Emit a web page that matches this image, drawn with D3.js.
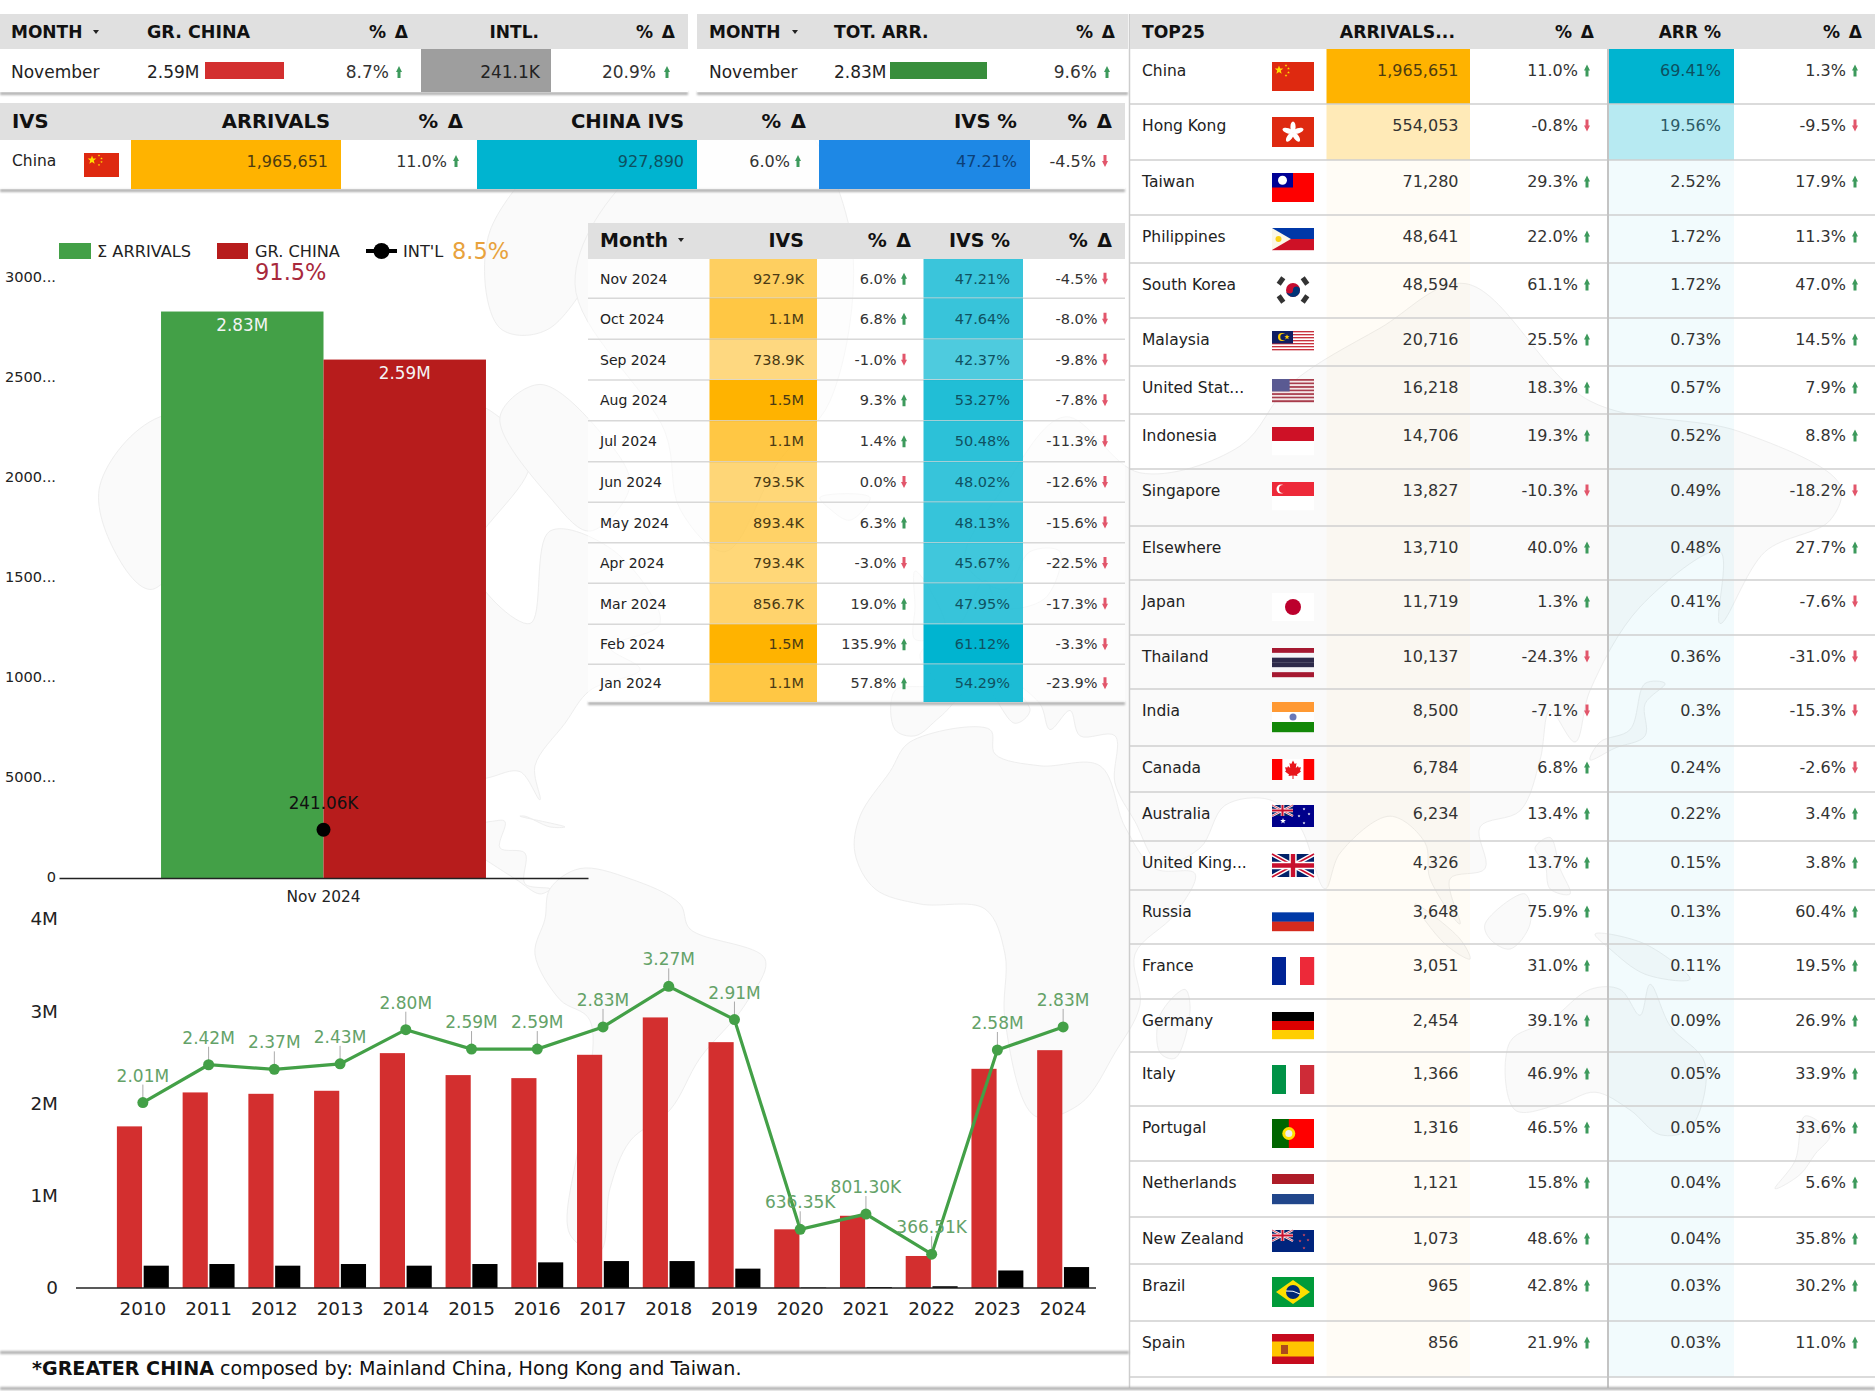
<!DOCTYPE html>
<html>
<head>
<meta charset="utf-8">
<title>Greater China arrivals</title>
<script src="https://cdn.jsdelivr.net/npm/d3@7"></script>
<style>
  html, body { margin: 0; padding: 0; background: #fff; }
  svg { display: block; }
  text { font-family: "DejaVu Sans", Verdana, sans-serif; }
</style>
</head>
<body>
<div id="page"></div>
<script>
// monthly table
const months = ["Nov 2024", "Oct 2024", "Sep 2024", "Aug 2024", "Jul 2024", "Jun 2024", "May 2024", "Apr 2024", "Mar 2024", "Feb 2024", "Jan 2024"];
const ivsLabels = ["927.9K", "1.1M", "738.9K", "1.5M", "1.1M", "793.5K", "893.4K", "793.4K", "856.7K", "1.5M", "1.1M"];
const ivsValues = [927900, 1100000, 738900, 1500000, 1100000, 793500, 893400, 793400, 856700, 1500000, 1100000];
const ivsDelta = ["6.0%", "6.8%", "-1.0%", "9.3%", "1.4%", "0.0%", "6.3%", "-3.0%", "19.0%", "135.9%", "57.8%"];
const ivsShare = [47.21, 47.64, 42.37, 53.27, 50.48, 48.02, 48.13, 45.67, 47.95, 61.12, 54.29];
const ivsShareDelta = ["-4.5%", "-8.0%", "-9.8%", "-7.8%", "-11.3%", "-12.6%", "-15.6%", "-22.5%", "-17.3%", "-3.3%", "-23.9%"];

// top 25 table
const countries = ["China", "Hong Kong", "Taiwan", "Philippines", "South Korea", "Malaysia", "United Stat...", "Indonesia", "Singapore", "Elsewhere", "Japan", "Thailand", "India", "Canada", "Australia", "United King...", "Russia", "France", "Germany", "Italy", "Portugal", "Netherlands", "New Zealand", "Brazil", "Spain"];
const arrivals = [1965651, 554053, 71280, 48641, 48594, 20716, 16218, 14706, 13827, 13710, 11719, 10137, 8500, 6784, 6234, 4326, 3648, 3051, 2454, 1366, 1316, 1121, 1073, 965, 856];
const arrivalsDelta = ["11.0%", "-0.8%", "29.3%", "22.0%", "61.1%", "25.5%", "18.3%", "19.3%", "-10.3%", "40.0%", "1.3%", "-24.3%", "-7.1%", "6.8%", "13.4%", "13.7%", "75.9%", "31.0%", "39.1%", "46.9%", "46.5%", "15.8%", "48.6%", "42.8%", "21.9%"];
const arrShare = [69.41, 19.56, 2.52, 1.72, 1.72, 0.73, 0.57, 0.52, 0.49, 0.48, 0.41, 0.36, 0.3, 0.24, 0.22, 0.15, 0.13, 0.11, 0.09, 0.05, 0.05, 0.04, 0.04, 0.03, 0.03];
const arrShareLabels = ["69.41%", "19.56%", "2.52%", "1.72%", "1.72%", "0.73%", "0.57%", "0.52%", "0.49%", "0.48%", "0.41%", "0.36%", "0.3%", "0.24%", "0.22%", "0.15%", "0.13%", "0.11%", "0.09%", "0.05%", "0.05%", "0.04%", "0.04%", "0.03%", "0.03%"];
const arrShareDelta = ["1.3%", "-9.5%", "17.9%", "11.3%", "47.0%", "14.5%", "7.9%", "8.8%", "-18.2%", "27.7%", "-7.6%", "-31.0%", "-15.3%", "-2.6%", "3.4%", "3.8%", "60.4%", "19.5%", "26.9%", "33.9%", "33.6%", "5.6%", "35.8%", "30.2%", "11.0%"];

// single month comparison chart
const monthCategory = ["Nov 2024"];
const monthSeries = ["Σ ARRIVALS", "GR. CHINA"];
const monthValues = [2830000, 2590000];
const monthIntl = 241060;
const monthTicks = [0, 500000, 1000000, 1500000, 2000000, 2500000, 3000000];
const monthTickLabels = ["0", "5000...", "1000...", "1500...", "2000...", "2500...", "3000..."];

// yearly chart
const years = ["2010", "2011", "2012", "2013", "2014", "2015", "2016", "2017", "2018", "2019", "2020", "2021", "2022", "2023", "2024"];
const greaterChina = [1752000, 2120000, 2105000, 2138000, 2546000, 2308000, 2275000, 2528000, 2933000, 2665000, 636000, 783000, 347000, 2376000, 2578000];
const international = [242000, 260000, 242000, 260000, 242000, 260000, 278000, 292000, 292000, 210000, 5000, 10000, 19000, 190000, 227000];
const totalArrivals = [2010000, 2420000, 2370000, 2430000, 2800000, 2590000, 2590000, 2830000, 3270000, 2910000, 636350, 801300, 366510, 2580000, 2830000];
const yearTicks = [0, 1000000, 2000000, 3000000, 4000000];
const yearTickLabels = ["0", "1M", "2M", "3M", "4M"];

// rough land outlines behind the page, lon/lat
const land = [
  [[-168,66],[-156,71],[-128,70],[-110,68],[-95,72],[-82,68],[-94,59],[-82,52],[-78,62],[-65,60],[-56,52],[-66,49],[-60,46],[-70,43],[-75,38],[-81,31],[-80,25],[-84,30],[-90,29],[-97,27],[-97,20],[-90,21],[-87,21],[-88,16],[-83,15],[-83,9],[-78,8],[-80,7],[-85,10],[-95,16],[-105,20],[-110,24],[-113,31],[-117,32],[-124,40],[-124,48],[-132,55],[-148,60],[-158,56],[-165,60]],
  [[-80,73],[-68,70],[-62,66],[-70,62],[-78,65],[-88,71]],
  [[-117,73],[-105,73],[-102,69],[-115,69]],
  [[-90,80],[-70,83],[-62,82],[-78,76],[-88,76]],
  [[-73,78],[-60,82],[-32,83.5],[-18,80],[-22,72],[-32,68],[-43,60],[-52,64],[-55,70]],
  [[-84,22],[-75,20],[-78,20],[-83,22]],
  [[-78,8],[-72,12],[-62,10],[-52,5],[-50,0],[-35,-6],[-39,-15],[-48,-25],[-54,-34],[-62,-39],[-66,-46],[-68,-54],[-74,-52],[-72,-38],[-70,-18],[-76,-14],[-81,-5],[-79,2]],
  [[-6,35],[10,37],[11,33],[20,31],[32,31],[37,20],[43,12],[51,11],[47,3],[39,-5],[40,-15],[35,-24],[28,-33],[19,-35],[13,-18],[13,-5],[9,4],[-4,5],[-13,8],[-17,15],[-16,22],[-10,30]],
  [[-9,37],[-9,43],[-1,44],[-4,48],[4,52],[9,57],[12,54],[21,55],[24,60],[18,60],[13,56],[5,59],[13,66],[25,71],[40,67],[60,69],[70,73],[88,76],[105,78],[130,72],[160,70],[180,66],[178,63],[165,60],[156,52],[156,60],[140,54],[130,43],[127,35],[122,40],[120,32],[116,23],[108,20],[109,12],[102,10],[104,1],[98,10],[97,17],[90,22],[80,15],[77,8],[72,20],[66,25],[57,24],[52,16],[44,13],[39,21],[35,28],[35,36],[28,36],[26,40],[22,37],[20,41],[13,45],[18,40],[15,38],[8,44],[0,39],[-5,36]],
  [[-5,50],[1,51],[-2,56],[-5,58],[-5,54]],
  [[-24,65],[-14,65],[-18,63],[-22,64]],
  [[49,-12],[50,-16],[47,-25],[44,-24],[44,-17]],
  [[114,-22],[122,-18],[130,-12],[136,-12],[140,-17],[142,-11],[146,-19],[153,-26],[150,-37],[144,-38],[138,-34],[131,-31],[124,-33],[115,-34]],
  [[173,-35],[178,-38],[175,-41],[172,-44],[167,-46],[171,-42]],
  [[130,32],[135,34],[141,36],[141,41],[145,44],[141,44],[138,37],[132,35]],
  [[95,5],[104,-2],[106,-6],[101,-3]],
  [[109,1],[117,7],[118,1],[114,-4],[110,-2]],
  [[131,-1],[141,-3],[150,-10],[141,-9],[134,-4]],
  [[119,16],[122,18],[124,12],[126,7],[122,8],[121,13]]
];

const W = 1875, H = 1391;
const AMBER = "#ffb300", TEAL = "#00b4d0", UP = "#3d9a5c", DOWN = "#e2566b";

const svg = d3.select("#page").append("svg").attr("width", W).attr("height", H);

const defs = svg.append("defs");
defs.append("filter").attr("id", "soft").attr("x", "-5%").attr("y", "-200%").attr("width", "110%").attr("height", "500%")
  .append("feGaussianBlur").attr("stdDeviation", 1);

function label(g, x, y, str, size, anchor, fill, weight) {
  return g.append("text")
    .attr("x", x).attr("y", y)
    .attr("dominant-baseline", "central")
    .attr("text-anchor", anchor || "start")
    .attr("fill", fill || "#222")
    .attr("font-weight", weight || "normal")
    .style("font-size", size + "px")
    .text(str);
}

// column titles, the % Δ ones have a wider gap
function title(g, x, y, str, size, anchor) {
  label(g, x, y, str, size, anchor, "#111", "bold").style("word-spacing", str === "% Δ" ? "3px" : null);
}

// little stem arrow next to the % values
function arrow(g, x, y, str) {
  const down = str.startsWith("-") || str === "0.0%";
  const d = down
    ? `M${x - 1.5},${y - 6}h3v6h1.5l-3,6l-3,-6h1.5z`
    : `M${x - 1.5},${y + 6}h3v-6h1.5l-3,-6l-3,6h1.5z`;
  g.append("path").attr("d", d).attr("fill", down ? DOWN : UP);
}

function pctCell(g, xRight, xArrow, y, str, size) {
  label(g, xRight, y, str, size, "end", "#333");
  arrow(g, xArrow, y, str);
}

function header(g, x0, x1, y0, y1) {
  g.append("rect").attr("x", x0).attr("y", y0).attr("width", x1 - x0).attr("height", y1 - y0).attr("fill", "#e0e0e0");
}

function shadow(g, x0, x1, y) {
  g.append("rect").attr("x", x0).attr("y", y).attr("width", x1 - x0).attr("height", 3)
    .attr("fill", "#b0b0b0").attr("filter", "url(#soft)");
}

function caret(g, x, y) {
  g.append("path").attr("d", `M${x - 3},${y - 2}h6l-3,4z`).attr("fill", "#222");
}

// ---- world map in the background
const projection = d3.geoMercator().scale(286.5).translate([940, 929]);
const landPath = d3.line()
  .x(d => projection(d)[0])
  .y(d => projection(d)[1])
  .curve(d3.curveCatmullRomClosed.alpha(0.5));

svg.append("g").selectAll("path")
  .data(land)
  .join("path")
  .attr("d", landPath)
  .attr("fill", "#fafafa")
  .attr("stroke", "#eeeeee")
  .attr("stroke-width", 1);

// ---- top summary strips
const strip = svg.append("g");
shadow(strip, 0, 688, 92);
shadow(strip, 697, 1128, 92);
shadow(strip, 0, 1125, 189);

header(strip, 0, 688, 14, 49);
strip.append("rect").attr("x", 0).attr("y", 49).attr("width", 688).attr("height", 43).attr("fill", "#fff");
title(strip, 11, 32, "MONTH", 17);
caret(strip, 96, 32);
title(strip, 147, 32, "GR. CHINA", 17.5);
title(strip, 408, 32, "% Δ", 17, "end");
title(strip, 539, 32, "INTL.", 17, "end");
title(strip, 675, 32, "% Δ", 17, "end");
label(strip, 11, 72, "November", 17);
label(strip, 147, 72, "2.59M", 17);
strip.append("rect").attr("x", 205).attr("y", 62).attr("width", 79).attr("height", 17).attr("fill", "#d32f2f");
pctCell(strip, 389, 399, 72, "8.7%", 17);
strip.append("rect").attr("x", 421).attr("y", 49).attr("width", 130).attr("height", 43).attr("fill", "#9e9e9e");
label(strip, 540, 72, "241.1K", 17, "end");
pctCell(strip, 656, 667, 72, "20.9%", 17);

header(strip, 697, 1128, 14, 49);
strip.append("rect").attr("x", 697).attr("y", 49).attr("width", 431).attr("height", 43).attr("fill", "#fff");
title(strip, 709, 32, "MONTH", 17);
caret(strip, 795, 32);
title(strip, 834, 32, "TOT. ARR.", 17.2);
title(strip, 1115, 32, "% Δ", 17, "end");
label(strip, 709, 72, "November", 17);
label(strip, 834, 72, "2.83M", 17);
strip.append("rect").attr("x", 890).attr("y", 62).attr("width", 97).attr("height", 17).attr("fill", "#388e3c");
pctCell(strip, 1097, 1107, 72, "9.6%", 17);

header(strip, 0, 1125, 103, 140);
strip.append("rect").attr("x", 0).attr("y", 140).attr("width", 1125).attr("height", 49).attr("fill", "#fff").attr("fill-opacity", 0.7);
title(strip, 12, 121, "IVS", 19.6);
title(strip, 330, 121, "ARRIVALS", 19.6, "end");
title(strip, 463, 121, "% Δ", 19.6, "end");
title(strip, 684, 121, "CHINA IVS", 19.6, "end");
title(strip, 806, 121, "% Δ", 19.6, "end");
title(strip, 1017, 121, "IVS %", 19.6, "end");
title(strip, 1112, 121, "% Δ", 19.6, "end");
label(strip, 12, 161, "China", 15.5);
strip.append("rect").attr("x", 84).attr("y", 153).attr("width", 35).attr("height", 24).attr("fill", "#de2910");
[[92, 160, 4.5], [99, 155.5, 1.3], [101.5, 158.5, 1.3], [101.5, 162, 1.3], [99, 165, 1.3]].forEach(s => flagStar(strip, s[0], s[1], s[2], "#ffde00"));
strip.append("rect").attr("x", 131).attr("y", 140).attr("width", 210).attr("height", 49).attr("fill", AMBER);
label(strip, 328, 161, "1,965,651", 16, "end", "#4e3c10");
pctCell(strip, 447, 456, 161, "11.0%", 16);
strip.append("rect").attr("x", 477).attr("y", 140).attr("width", 220).attr("height", 49).attr("fill", TEAL);
label(strip, 684, 161, "927,890", 16, "end", "#0d5060");
pctCell(strip, 790, 798, 161, "6.0%", 16);
strip.append("rect").attr("x", 819).attr("y", 140).attr("width", 211).attr("height", 49).attr("fill", "#1e88e5");
label(strip, 1017, 161, "47.21%", 16, "end", "#0c4078");
pctCell(strip, 1096, 1105, 161, "-4.5%", 16);

// ---- flags
function stripes(g, w, h, colors) {
  const y = d3.scaleBand().domain(d3.range(colors.length)).range([0, h]);
  colors.forEach((c, i) => {
    g.append("rect").attr("y", y(i)).attr("width", w).attr("height", y.bandwidth() + 0.2).attr("fill", c);
  });
}

function bars(g, w, h, colors) {
  const x = d3.scaleBand().domain(d3.range(colors.length)).range([0, w]);
  colors.forEach((c, i) => {
    g.append("rect").attr("x", x(i)).attr("width", x.bandwidth() + 0.2).attr("height", h).attr("fill", c);
  });
}

function flagStar(g, cx, cy, r, fill) {
  const pts = d3.range(10).map(i => {
    const a = -Math.PI / 2 + i * Math.PI / 5;
    const rr = i % 2 ? r * 0.42 : r;
    return [cx + rr * Math.cos(a), cy + rr * Math.sin(a)].join(",");
  }).join(" ");
  g.append("polygon").attr("points", pts).attr("fill", fill);
}

function union(g, w, h) {
  const u = g.append("g");
  u.append("rect").attr("width", w).attr("height", h).attr("fill", "#012169");
  u.append("path").attr("d", `M0,0L${w},${h}M${w},0L0,${h}`).attr("stroke", "#fff").attr("stroke-width", h * 0.2);
  u.append("path").attr("d", `M0,0L${w},${h}M${w},0L0,${h}`).attr("stroke", "#c8102e").attr("stroke-width", h * 0.07);
  u.append("path").attr("d", `M${w / 2},0V${h}M0,${h / 2}H${w}`).attr("stroke", "#fff").attr("stroke-width", h * 0.32);
  u.append("path").attr("d", `M${w / 2},0V${h}M0,${h / 2}H${w}`).attr("stroke", "#c8102e").attr("stroke-width", h * 0.19);
}

function rect(g, x, y, w, h, fill) {
  g.append("rect").attr("x", x).attr("y", y).attr("width", w).attr("height", h).attr("fill", fill);
}

const mapleLeaf = "M0,-9L1.8,-5.5L3.5,-6.5L2.8,-1.5L5,-3.5L5.6,-2L8,-2.3L7,1L8,2L4,5L4.5,6.5L0.5,6L0.5,9.5L-0.5,9.5L-0.5,6L-4.5,6.5L-4,5L-8,2L-7,1L-8,-2.3L-5.6,-2L-5,-3.5L-2.8,-1.5L-3.5,-6.5L-1.8,-5.5Z";

const flagHeights = [29, 30, 29, 22, 28, 21, 23, 28, 28, 0, 28, 29, 30, 21, 22, 23, 28, 28, 27, 29, 29, 30, 22, 30, 30];
const flagDrawers = [
  (g, w, h) => { rect(g, 0, 0, w, h, "#de2910"); flagStar(g, 7, 8, 4.5, "#ffde00"); flagStar(g, 14, 3.5, 1.4, "#ffde00"); flagStar(g, 16.5, 6.5, 1.4, "#ffde00"); flagStar(g, 16.5, 10.5, 1.4, "#ffde00"); flagStar(g, 14, 13.5, 1.4, "#ffde00"); },
  (g, w, h) => { rect(g, 0, 0, w, h, "#de2910"); d3.range(5).forEach(i => g.append("ellipse").attr("cx", 21).attr("cy", 10).attr("rx", 2.6).attr("ry", 5.5).attr("fill", "#fff").attr("transform", `rotate(${i * 72},21,15.5)`)); },
  (g, w, h) => { rect(g, 0, 0, w, h, "#fe0000"); rect(g, 0, 0, w / 2, h / 2, "#000095"); g.append("circle").attr("cx", w / 4).attr("cy", h / 4).attr("r", 4.5).attr("fill", "#fff"); },
  (g, w, h) => { stripes(g, w, h, ["#0038a8", "#ce1126"]); g.append("path").attr("d", `M0,0L${h * 0.86},${h / 2}L0,${h}z`).attr("fill", "#fbf7e8"); g.append("circle").attr("cx", 6.5).attr("cy", h / 2).attr("r", 3).attr("fill", "#fcd116"); },
  (g, w, h) => {
    g.append("circle").attr("cx", w / 2).attr("cy", h / 2).attr("r", 7).attr("fill", "#c60c30");
    g.append("path").attr("d", `M${w / 2 - 7},${h / 2}a7,7 0 0,0 14,0a3.5,3.5 0 0,0 -7,0a3.5,3.5 0 0,1 -7,0z`).attr("fill", "#003478");
    [[-12, -9, 35], [12, -9, -35], [-12, 9, -35], [12, 9, 35]].forEach(([dx, dy, a]) => {
      g.append("rect").attr("x", -4).attr("y", -2.5).attr("width", 8).attr("height", 5).attr("fill", "#333")
        .attr("transform", `translate(${w / 2 + dx},${h / 2 + dy}) rotate(${a + 90})`);
    });
  },
  (g, w, h) => { stripes(g, w, h, d3.range(14).map(i => i % 2 ? "#fff" : "#c8323e")); rect(g, 0, 0, w * 0.5, h / 2 + 2, "#101e62"); g.append("circle").attr("cx", 10).attr("cy", 6).attr("r", 4).attr("fill", "#fc0"); g.append("circle").attr("cx", 11.5).attr("cy", 6).attr("r", 3.2).attr("fill", "#101e62"); flagStar(g, 15, 6, 2.8, "#fc0"); },
  (g, w, h) => { stripes(g, w, h, d3.range(13).map(i => i % 2 ? "#f4e6e6" : "#a83c4c")); rect(g, 0, 0, w * 0.42, h * 0.54, "#5a5a92"); },
  (g, w, h) => { stripes(g, w, h, ["#ce1126", "#fff"]); },
  (g, w, h) => { stripes(g, w, h, ["#ed2939", "#fff"]); g.append("circle").attr("cx", 9).attr("cy", 7).attr("r", 4.5).attr("fill", "#fff"); g.append("circle").attr("cx", 11).attr("cy", 7).attr("r", 4).attr("fill", "#ed2939"); },
  null,
  (g, w, h) => { rect(g, 0, 0, w, h, "#fff"); g.append("circle").attr("cx", w / 2).attr("cy", h / 2).attr("r", 8).attr("fill", "#bc002d"); },
  (g, w, h) => { stripes(g, w, h, ["#a51931", "#f4f5f8", "#2d2a4a", "#2d2a4a", "#f4f5f8", "#a51931"]); },
  (g, w, h) => { stripes(g, w, h, ["#ff9933", "#fff", "#138808"]); g.append("circle").attr("cx", w / 2).attr("cy", h / 2).attr("r", 3.5).attr("fill", "#6a78b8"); },
  (g, w, h) => { bars(g, w, h, ["#f00", "#fff", "#fff", "#f00"]); g.append("path").attr("d", mapleLeaf).attr("fill", "#e8161c").attr("transform", `translate(${w / 2},${h / 2})`); },
  (g, w, h) => { rect(g, 0, 0, w, h, "#00008b"); union(g.append("g"), w / 2, h / 2); flagStar(g, 11, 16, 3, "#fff"); flagStar(g, 32, 4, 1.5, "#fff"); flagStar(g, 27, 11, 1.5, "#fff"); flagStar(g, 37, 9, 1.5, "#fff"); flagStar(g, 32, 18, 1.5, "#fff"); },
  (g, w, h) => { union(g, w, h); },
  (g, w, h) => { stripes(g, w, h, ["#fff", "#0039a6", "#d52b1e"]); },
  (g, w, h) => { bars(g, w, h, ["#002395", "#fff", "#ed2939"]); },
  (g, w, h) => { stripes(g, w, h, ["#000", "#d00", "#ffce00"]); },
  (g, w, h) => { bars(g, w, h, ["#009246", "#fff", "#ce2b37"]); },
  (g, w, h) => { rect(g, 0, 0, w, h, "#f00"); rect(g, 0, 0, w * 0.4, h, "#060"); g.append("circle").attr("cx", w * 0.4).attr("cy", h / 2).attr("r", 6.5).attr("fill", "#ffe000"); g.append("circle").attr("cx", w * 0.4).attr("cy", h / 2).attr("r", 3.5).attr("fill", "#eee"); },
  (g, w, h) => { stripes(g, w, h, ["#ae1c28", "#fff", "#21468b"]); },
  (g, w, h) => { rect(g, 0, 0, w, h, "#00247d"); union(g.append("g"), w / 2, h / 2); flagStar(g, 32, 5, 1.6, "#e04a5a"); flagStar(g, 28, 11, 1.6, "#e04a5a"); flagStar(g, 36, 10, 1.6, "#e04a5a"); flagStar(g, 32, 18, 1.6, "#e04a5a"); },
  (g, w, h) => { rect(g, 0, 0, w, h, "#009b3a"); g.append("path").attr("d", `M${w / 2},3L${w - 4},${h / 2}L${w / 2},${h - 3}L4,${h / 2}z`).attr("fill", "#fedf00"); g.append("circle").attr("cx", w / 2).attr("cy", h / 2).attr("r", 7).attr("fill", "#002776"); g.append("path").attr("d", `M${w / 2 - 7},${h / 2 - 1}Q${w / 2},${h / 2 - 2} ${w / 2 + 7},${h / 2 + 2}`).attr("stroke", "#fff").attr("stroke-width", 1).attr("fill", "none"); },
  (g, w, h) => { rect(g, 0, 0, w, h, "#c60b1e"); rect(g, 0, h / 4, w, h / 2, "#ffc400"); rect(g, 9, h / 2 - 4, 7, 9, "#ad4a1c"); }
];

// ---- top 25 table
const rowEdges = [49, 104, 160, 215, 263, 318, 366, 414, 469, 526, 580, 635, 689, 746, 792, 841, 890, 944, 999, 1052, 1106, 1161, 1217, 1264, 1321, 1377];
const amberAlpha = d3.scaleLinear().domain([0, d3.max(arrivals)]).range([0, 1]);
const tealAlpha = d3.scaleLinear().domain([0, d3.max(arrShare)]).range([0, 1]);

const top25 = svg.append("g");
countries.forEach((name, i) => {
  const y0 = rowEdges[i], y1 = rowEdges[i + 1];
  const yc = y0 + 21.5;
  const row = top25.append("g");

  row.append("rect").attr("x", 1326.5).attr("y", y0).attr("width", 143.5).attr("height", y1 - y0)
    .attr("fill", AMBER).attr("fill-opacity", Math.max(amberAlpha(arrivals[i]), 0.035));
  row.append("rect").attr("x", 1609).attr("y", y0).attr("width", 125).attr("height", y1 - y0)
    .attr("fill", TEAL).attr("fill-opacity", Math.max(tealAlpha(arrShare[i]), 0.05));

  if (flagDrawers[i]) {
    const f = row.append("g").attr("transform", `translate(1272,${y0 + 13})`);
    flagDrawers[i](f, 42, flagHeights[i]);
  }
  label(row, 1142, yc, name, 15.5);
  label(row, 1458.5, yc, d3.format(",")(arrivals[i]), 16, "end", i === 0 ? "#4e3c10" : "#333");
  pctCell(row, 1578, 1587, yc, arrivalsDelta[i], 16);
  label(row, 1721, yc, arrShareLabels[i], 16, "end", i === 0 ? "#0d5060" : (i === 1 ? "#2c5a66" : "#333"));
  pctCell(row, 1846, 1855, yc, arrShareDelta[i], 16);
});
rowEdges.slice(1).forEach(y => {
  top25.append("line").attr("x1", 1130).attr("x2", W).attr("y1", y).attr("y2", y)
    .attr("stroke", "#cfcfcf").attr("stroke-width", 1.5);
});
top25.append("line").attr("x1", 1608).attr("x2", 1608).attr("y1", 49).attr("y2", 1388)
  .attr("stroke", "#c4c4c4").attr("stroke-width", 2);
top25.append("line").attr("x1", 1129.5).attr("x2", 1129.5).attr("y1", 14).attr("y2", 1388)
  .attr("stroke", "#cdcdcd").attr("stroke-width", 1.5);
header(top25, 1130, W, 14, 49);
title(top25, 1142, 32, "TOP25", 17.2);
title(top25, 1455, 32, "ARRIVALS...", 17.3, "end");
title(top25, 1594, 32, "% Δ", 17, "end");
title(top25, 1721, 32, "ARR %", 17, "end");
title(top25, 1862, 32, "% Δ", 17, "end");

// ---- monthly table
const monthEdges = [259, 298.3, 339.3, 380, 420.7, 461.7, 502.3, 542.7, 583.3, 624.3, 664.3, 702];
const ivsAlpha = d3.scaleLinear().domain([0, d3.max(ivsValues)]).range([0, 1]);
const shareAlpha = d3.scaleLinear().domain([0, d3.max(ivsShare)]).range([0, 1]);

const monthly = svg.append("g");
shadow(monthly, 588, 1125, 702);
monthly.append("rect").attr("x", 588).attr("y", 259).attr("width", 537).attr("height", 443).attr("fill", "#fff").attr("fill-opacity", 0.55);
header(monthly, 588, 1125, 223, 259);
title(monthly, 600, 240, "Month", 19);
caret(monthly, 681, 240);
title(monthly, 804, 240, "IVS", 19, "end");
title(monthly, 911, 240, "% Δ", 19, "end");
title(monthly, 1010, 240, "IVS %", 19, "end");
title(monthly, 1112, 240, "% Δ", 19, "end");

months.forEach((m, i) => {
  const y0 = monthEdges[i], y1 = monthEdges[i + 1];
  const yc = (y0 + y1) / 2;
  monthly.append("rect").attr("x", 709.5).attr("y", y0).attr("width", 107.5).attr("height", y1 - y0)
    .attr("fill", AMBER).attr("fill-opacity", ivsAlpha(ivsValues[i]));
  monthly.append("rect").attr("x", 923.5).attr("y", y0).attr("width", 99.5).attr("height", y1 - y0)
    .attr("fill", TEAL).attr("fill-opacity", shareAlpha(ivsShare[i]));
  label(monthly, 600, yc, m, 14);
  label(monthly, 804, yc, ivsLabels[i], 14.5, "end", "#4a3a14");
  pctCell(monthly, 896.5, 904, yc, ivsDelta[i], 14.5);
  label(monthly, 1010, yc, ivsShare[i].toFixed(2) + "%", 14.5, "end", "#0f5262");
  pctCell(monthly, 1097.5, 1105, yc, ivsShareDelta[i], 14.5);
  if (i < months.length - 1) {
    monthly.append("line").attr("x1", 588).attr("x2", 1125).attr("y1", y1).attr("y2", y1)
      .attr("stroke", "#d8d8d8").attr("stroke-width", 1.5);
  }
});

// ---- single month chart
const fmtShort = v => v >= 1e6 ? (v / 1e6).toFixed(2) + "M" : (v / 1e3).toFixed(2) + "K";

const x0Month = d3.scaleBand().domain(monthCategory).range([59, 588]);
const xSeries = d3.scaleBand().domain(monthSeries).range([0, x0Month.bandwidth()]).paddingInner(0).paddingOuter(0.628);
const yMonth = d3.scaleLinear().domain([0, 3000000]).range([878, 277.5]);
const monthColor = d3.scaleOrdinal().domain(monthSeries).range(["#43a047", "#b71c1c"]);

const monthChart = svg.append("g");

const yAxisMonth = d3.axisLeft(yMonth).tickValues(monthTicks).tickFormat((d, i) => monthTickLabels[i]).tickSize(0).tickPadding(3);
const gy1 = monthChart.append("g").attr("transform", "translate(59,-1)").call(yAxisMonth);
gy1.select(".domain").remove();
gy1.selectAll("text").attr("font-family", null).attr("fill", "#222").style("font-size", "14.6px");

monthChart.selectAll("rect.bar")
  .data(monthSeries.map((s, i) => ({ s, v: monthValues[i] })))
  .join("rect")
  .attr("class", "bar")
  .attr("x", d => x0Month(monthCategory[0]) + xSeries(d.s))
  .attr("y", d => yMonth(d.v))
  .attr("width", xSeries.bandwidth())
  .attr("height", d => yMonth(0) - yMonth(d.v))
  .attr("fill", d => monthColor(d.s));

monthSeries.forEach((s, i) => {
  label(monthChart, x0Month(monthCategory[0]) + xSeries(s) + xSeries.bandwidth() / 2, yMonth(monthValues[i]) + 13, fmtShort(monthValues[i]), 16.8, "middle", "#f4f4f4");
});

const xMid = x0Month(monthCategory[0]) + x0Month.bandwidth() / 2;
monthChart.append("circle").attr("cx", xMid).attr("cy", yMonth(monthIntl)).attr("r", 7).attr("fill", "#000");
label(monthChart, xMid, yMonth(monthIntl) - 27, fmtShort(monthIntl), 16.8, "middle", "#111");

const gx1 = monthChart.append("g").attr("transform", "translate(0,878)").call(d3.axisBottom(x0Month).tickSize(0).tickPadding(13));
gx1.select(".domain").attr("stroke", "#222").attr("stroke-width", 1.5);
gx1.selectAll("text").attr("font-family", null).attr("fill", "#222").style("font-size", "15.4px");

// legend
const legend = svg.append("g");
legend.append("rect").attr("x", 59).attr("y", 243).attr("width", 32).attr("height", 16).attr("fill", "#43a047");
label(legend, 97, 251, monthSeries[0], 16.2);
legend.append("rect").attr("x", 217).attr("y", 243).attr("width", 31).attr("height", 16).attr("fill", "#b71c1c");
label(legend, 255, 251, monthSeries[1], 16.2);
legend.append("line").attr("x1", 366).attr("x2", 397).attr("y1", 251).attr("y2", 251).attr("stroke", "#000").attr("stroke-width", 4);
legend.append("circle").attr("cx", 381.5).attr("cy", 251).attr("r", 8).attr("fill", "#000");
label(legend, 403, 251, "INT'L", 16.2);
label(legend, 452, 251, "8.5%", 22.5, "start", "#e8a23c");
label(legend, 255, 271.5, "91.5%", 22.5, "start", "#a8293c");

// ---- yearly chart
const xYear = d3.scaleBand().domain(years).range([110, 1096]);
const xSub = d3.scaleBand().domain(["gc", "intl"]).range([6.9, xYear.bandwidth() - 6.9]).paddingInner(0.06);
const yYear = d3.scaleLinear().domain([0, 4000000]).range([1288, 919]);

const yearChart = svg.append("g");

const gy2 = yearChart.append("g").attr("transform", "translate(59,0)")
  .call(d3.axisLeft(yYear).tickValues(yearTicks).tickFormat((d, i) => yearTickLabels[i]).tickSize(0).tickPadding(1));
gy2.select(".domain").remove();
gy2.selectAll("text").attr("font-family", null).attr("fill", "#222").style("font-size", "18.4px");

yearChart.selectAll("rect.gc")
  .data(years.map((y, i) => ({ y, v: greaterChina[i] })))
  .join("rect")
  .attr("class", "gc")
  .attr("x", d => xYear(d.y) + xSub("gc"))
  .attr("y", d => yYear(d.v))
  .attr("width", xSub.bandwidth())
  .attr("height", d => yYear(0) - yYear(d.v))
  .attr("fill", "#d32f2f");

yearChart.selectAll("rect.intl")
  .data(years.map((y, i) => ({ y, v: international[i] })))
  .join("rect")
  .attr("class", "intl")
  .attr("x", d => xYear(d.y) + xSub("intl"))
  .attr("y", d => yYear(d.v))
  .attr("width", xSub.bandwidth())
  .attr("height", d => yYear(0) - yYear(d.v))
  .attr("fill", "#000");

const gx2 = yearChart.append("g").attr("transform", "translate(0,1288)")
  .call(d3.axisBottom(xYear).tickSize(0).tickPadding(14));
gx2.select(".domain").remove();
gx2.selectAll("text").attr("font-family", null).attr("fill", "#222").style("font-size", "18.4px");
yearChart.append("line").attr("x1", 76).attr("x2", 1096).attr("y1", 1288).attr("y2", 1288).attr("stroke", "#222").attr("stroke-width", 1.5);

const totals = years.map((y, i) => ({ y, v: totalArrivals[i] }));
const xCenter = d => xYear(d.y) + xYear.bandwidth() / 2;

yearChart.append("path")
  .datum(totals)
  .attr("fill", "none")
  .attr("stroke", "#43a047")
  .attr("stroke-width", 3.2)
  .attr("d", d3.line().x(xCenter).y(d => yYear(d.v)));

yearChart.selectAll("line.leader")
  .data(totals)
  .join("line")
  .attr("class", "leader")
  .attr("x1", xCenter).attr("x2", xCenter)
  .attr("y1", d => yYear(d.v) - 18).attr("y2", d => yYear(d.v))
  .attr("stroke", "#aaa");

yearChart.selectAll("circle.pt")
  .data(totals)
  .join("circle")
  .attr("class", "pt")
  .attr("cx", xCenter)
  .attr("cy", d => yYear(d.v))
  .attr("r", 5.5)
  .attr("fill", "#43a047");

yearChart.selectAll("text.pt-label")
  .data(totals)
  .join("text")
  .attr("class", "pt-label")
  .attr("x", xCenter)
  .attr("y", d => yYear(d.v) - 27)
  .attr("dominant-baseline", "central")
  .attr("text-anchor", "middle")
  .attr("fill", "#64a268")
  .style("font-size", "17px")
  .text(d => fmtShort(d.v));

// ---- footer
const footer = svg.append("g");
shadow(footer, 0, 1129, 1351);
shadow(footer, 0, W, 1387);
const note = footer.append("text").attr("x", 32).attr("y", 1368)
  .attr("dominant-baseline", "central").attr("fill", "#111").style("font-size", "19.1px");
note.append("tspan").attr("font-weight", "bold").text("*GREATER CHINA");
note.append("tspan").text(" composed by: Mainland China, Hong Kong and Taiwan.");
</script>
</body>
</html>
